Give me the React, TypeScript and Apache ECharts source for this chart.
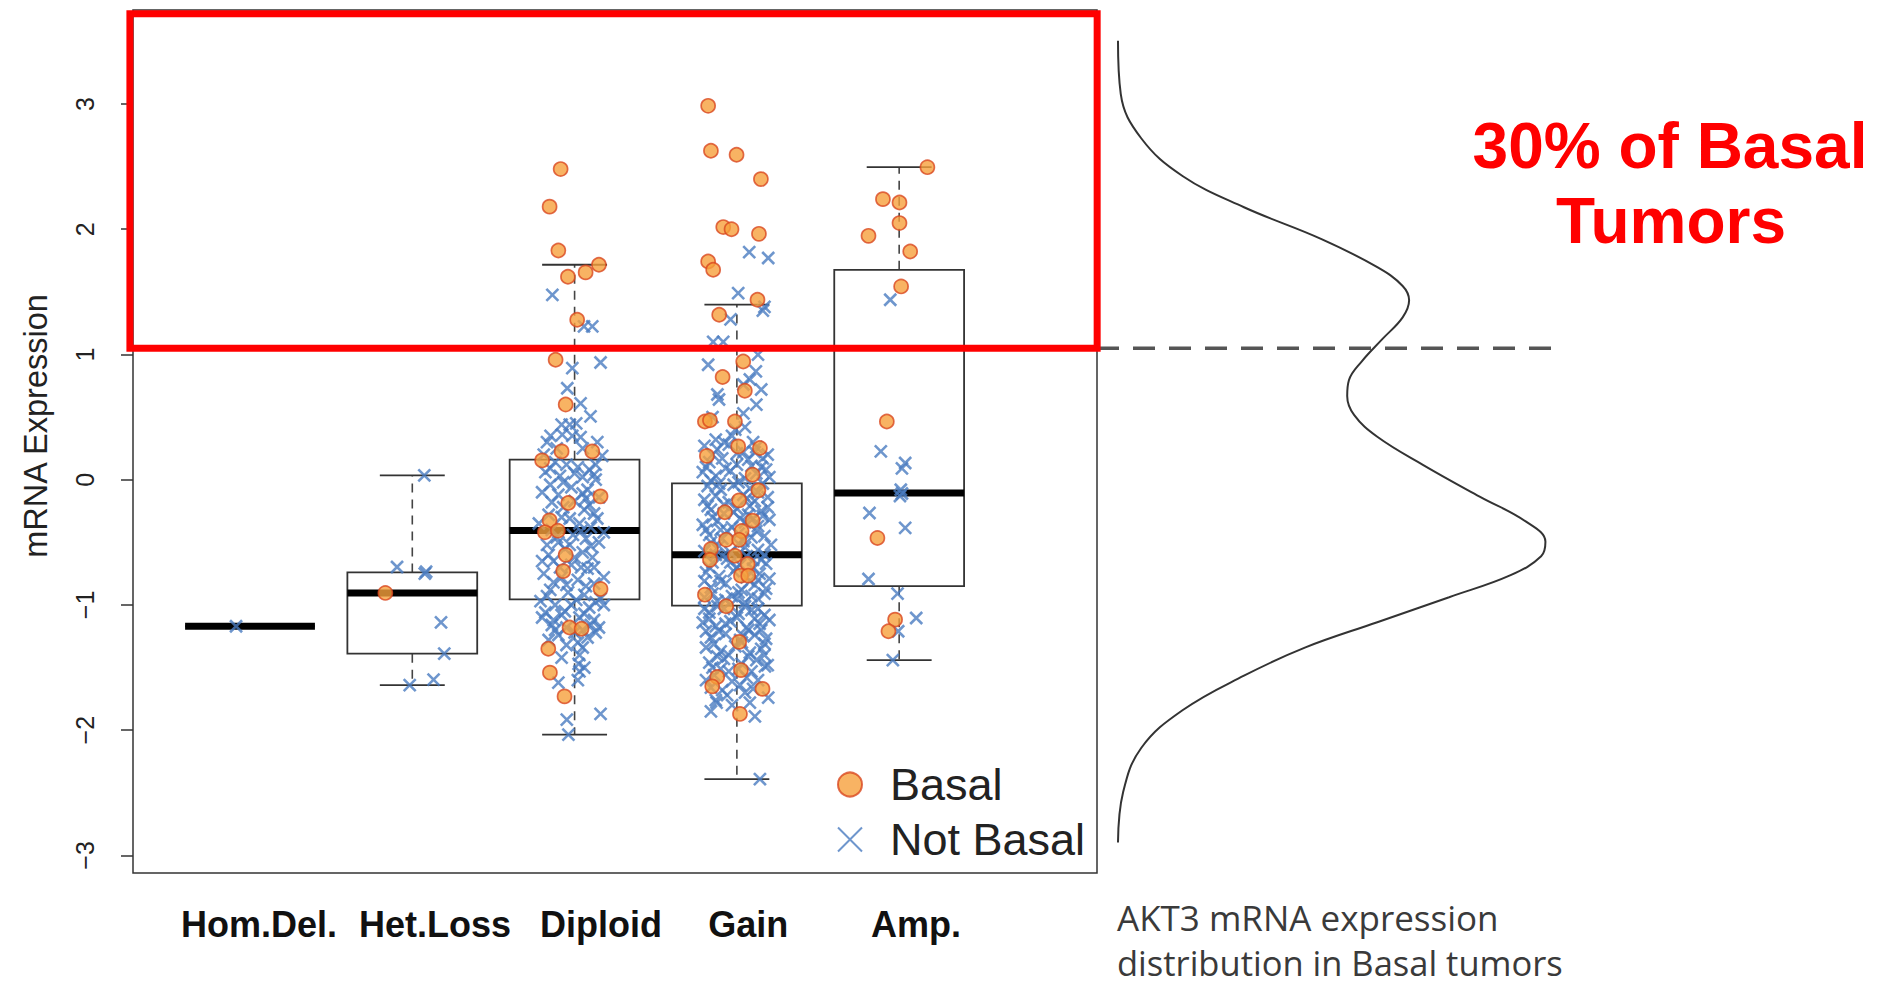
import React, { useEffect, useRef } from "react";
import * as echarts from "echarts";

// ---------- data ----------
const categories = ["Hom.Del.", "Het.Loss", "Diploid", "Gain", "Amp."];
const categoryPositions = [1, 2, 3, 4, 5];
const labelPositions = [1.055, 2.14, 3.163, 4.07, 5.103];
const yTicks = [-3, -2, -1, 0, 1, 2, 3];

// [lower whisker, Q1, median, Q3, upper whisker]
const boxStats = [
  [-1.17, -1.17, -1.17, -1.17, -1.17],
  [-1.64, -1.389, -0.904, -0.74, 0.034],
  [-2.035, -0.955, -0.405, 0.16, 1.716],
  [-2.39, -1.006, -0.6, -0.03, 1.397],
  [-1.44, -0.85, -0.106, 1.676, 2.495],
];

// points: [jitter offset from category, expression]
const basalHomDel: number[][] = [];
const basalHetLoss = [[-0.166, -0.904]];
const basalDiploid = [
  [-0.086, 2.48], [-0.154, 2.18], [-0.1, 1.83], [0.15, 1.716], [0.068, 1.655], [-0.041, 1.62],
  [0.016, 1.277], [-0.117, 0.958], [-0.055, 0.6], [-0.2, 0.154], [-0.08, 0.226], [0.109, 0.226],
  [0.16, -0.133], [-0.039, -0.186], [-0.154, -0.325], [-0.183, -0.42], [-0.103, -0.407],
  [-0.055, -0.6], [-0.07, -0.73], [0.16, -0.872], [-0.031, -1.18], [0.043, -1.19],
  [-0.162, -1.35], [-0.152, -1.54], [-0.062, -1.73],
];
const basalGain = [
  [-0.177, 2.985], [-0.16, 2.626], [-0.002, 2.594], [0.148, 2.4], [-0.084, 2.017], [-0.033, 2.0],
  [0.136, 1.963], [-0.177, 1.742], [-0.146, 1.676], [0.127, 1.437], [-0.109, 1.317], [0.039, 0.944],
  [-0.088, 0.82], [0.049, 0.71], [-0.197, 0.465], [-0.166, 0.475], [-0.012, 0.465], [0.008, 0.266],
  [0.142, 0.253], [-0.185, 0.19], [0.097, 0.04], [0.133, -0.085], [0.014, -0.165], [-0.074, -0.26],
  [0.097, -0.327], [0.029, -0.41], [-0.066, -0.48], [0.014, -0.48], [-0.16, -0.553], [-0.166, -0.64],
  [-0.012, -0.607], [0.066, -0.673], [0.025, -0.766], [0.07, -0.766], [-0.197, -0.918], [-0.066, -1.01],
  [0.014, -1.295], [0.025, -1.52], [-0.121, -1.575], [-0.152, -1.65], [0.158, -1.67], [0.019, -1.87],
];
const basalAmp = [
  [0.174, 2.495], [-0.1, 2.24], [0.002, 2.213], [0.002, 2.049], [-0.189, 1.947], [0.068, 1.822],
  [0.012, 1.543], [-0.076, 0.465], [-0.134, -0.465], [-0.025, -1.117], [-0.066, -1.21],
];

const notBasalHomDel = [[-0.086, -1.17]];
const notBasalHetLoss = [
  [0.074, 0.034], [-0.094, -0.697], [0.077, -0.75], [0.085, -0.735], [0.177, -1.139],
  [0.197, -1.389], [-0.016, -1.64], [0.131, -1.596],
];
const notBasalDiploid = [
  [-0.137, 1.476], [0.058, 1.224], [0.109, 1.224], [0.16, 0.936], [-0.014, 0.891], [-0.045, 0.73],
  [0.037, 0.61], [0.098, 0.505], [-0.08, 0.44], [-0.03, 0.44], [0.01, 0.45], [-0.148, 0.35],
  [-0.076, 0.36], [-0.014, 0.35], [0.037, 0.34], [-0.17, 0.3], [0.17, 0.19], [0.13, 0.12],
  [-0.12, 0.14], [-0.05, 0.12], [0.02, 0.1], [0.09, 0.08], [-0.18, 0.06], [-0.09, 0.03], [0.05, 0.02],
  [0.13, 0.0], [-0.15, -0.04], [-0.02, -0.06], [0.08, -0.08], [-0.2, -0.1], [-0.1, -0.12], [0.15, -0.14],
  [0.0, -0.17], [-0.07, -0.22], [0.06, -0.24], [0.12, -0.27], [-0.16, -0.28], [-0.03, -0.31],
  [0.03, -0.35], [0.1, -0.38], [-0.11, -0.46], [-0.01, -0.44], [0.07, -0.47], [0.15, -0.5],
  [-0.17, -0.52], [-0.06, -0.55], [0.05, -0.58], [0.11, -0.62], [-0.13, -0.65], [-0.02, -0.68],
  [0.08, -0.71], [-0.19, -0.75], [-0.08, -0.78], [0.02, -0.8], [0.12, -0.83], [-0.15, -0.88],
  [-0.04, -0.9], [0.06, -0.92], [0.16, -0.95], [-0.21, -0.97], [-0.12, -1.0], [-0.02, -1.0],
  [0.09, -1.02], [0.18, -1.0], [-0.18, -1.06], [-0.08, -1.08], [0.03, -1.1], [0.12, -1.12],
  [-0.14, -1.16], [0.15, -1.18], [-0.1, -1.24], [0.0, -1.22], [0.08, -1.26], [-0.16, -1.28],
  [-0.05, -1.32], [0.05, -1.34], [0.03, -1.4], [0.025, -1.47], [0.03, -1.53], [0.02, -1.6],
  [-0.1, -1.62], [0.16, -1.87], [-0.048, -1.915], [-0.038, -2.035],
  [-0.15, 0.09], [0.0, 0.05], [0.12, 0.04], [-0.07, -0.02], [0.05, -0.11], [-0.14, -0.18],
  [0.09, -0.2], [-0.08, -0.3], [0.14, -0.31], [-0.14, -0.4], [0.04, -0.41], [-0.1, -0.5],
  [0.1, -0.53], [-0.16, -0.6], [0.0, -0.62], [-0.09, -0.7], [0.12, -0.7], [-0.13, -0.82],
  [0.07, -0.85], [-0.17, -0.93], [0.01, -0.96], [0.13, -0.98], [-0.06, -1.05], [0.06, -1.07],
  [-0.13, -1.12], [0.1, -1.16], [-0.05, -1.18], [0.13, -1.22], [-0.12, -1.2], [0.02, -1.3],
  [-0.19, 0.2], [0.05, 0.25], [0.14, 0.3], [-0.11, 0.25], [-0.22, -0.35], [0.18, -0.42],
  [-0.2, -0.65], [0.18, -0.78], [-0.05, -0.84], [0.04, -0.7], [-0.03, -0.52], [0.07, -0.15],
  [-0.2, -1.1], [0.05, -1.2], [-0.08, -1.42], [0.06, -1.5],
];
const notBasalGain = [
  [0.076, 1.817], [0.193, 1.77], [0.008, 1.49], [0.16, 1.35], [0.17, 1.38], [-0.039, 1.28],
  [-0.146, 1.1], [-0.084, 1.1], [0.13, 0.998], [-0.177, 0.918], [0.117, 0.865], [0.08, 0.8],
  [0.04, 0.76], [0.15, 0.72], [-0.12, 0.68], [-0.11, 0.64], [0.04, 0.53], [-0.01, 0.4],
  [-0.13, 0.32], [-0.08, 0.3], [0.11, 0.22],
  [-0.2, 0.27], [-0.12, 0.24], [-0.05, 0.28], [0.04, 0.22], [0.12, 0.26], [0.19, 0.2],
  [-0.17, 0.14], [-0.09, 0.17], [0.0, 0.12], [0.07, 0.16], [0.15, 0.1],
  [-0.21, 0.06], [-0.13, 0.03], [-0.04, 0.07], [0.05, 0.01], [0.12, 0.05], [0.2, 0.02],
  [-0.18, -0.05], [-0.1, -0.08], [-0.02, -0.04], [0.08, -0.07], [0.16, -0.03],
  [-0.2, -0.16], [-0.13, -0.13], [-0.05, -0.18], [0.04, -0.12], [0.11, -0.17], [0.19, -0.14],
  [-0.16, -0.24], [-0.08, -0.27], [0.0, -0.23], [0.07, -0.28], [0.15, -0.25],
  [-0.21, -0.36], [-0.12, -0.33], [-0.03, -0.38], [0.05, -0.34], [0.13, -0.37], [0.2, -0.32],
  [-0.17, -0.44], [-0.09, -0.47], [0.01, -0.43], [0.09, -0.46], [0.17, -0.45],
  [-0.2, -0.57], [-0.11, -0.53], [-0.04, -0.58], [0.05, -0.54], [0.13, -0.56], [0.21, -0.52],
  [-0.15, -0.66], [-0.06, -0.63], [0.02, -0.68], [0.1, -0.64], [0.18, -0.67],
  [-0.19, -0.74], [-0.11, -0.77], [-0.02, -0.73], [0.06, -0.78], [0.14, -0.75], [0.2, -0.79],
  [-0.16, -0.86], [-0.07, -0.83], [0.03, -0.88], [0.11, -0.84], [0.18, -0.87],
  [-0.2, -0.94], [-0.12, -0.97], [-0.03, -0.93], [0.05, -0.98], [0.13, -0.95],
  [-0.17, -1.06], [-0.08, -1.03], [0.01, -1.07], [0.09, -1.04], [0.17, -1.08],
  [-0.21, -1.14], [-0.13, -1.17], [-0.04, -1.13], [0.06, -1.18], [0.14, -1.15], [0.2, -1.12],
  [-0.16, -1.26], [-0.07, -1.23], [0.02, -1.28], [0.11, -1.24], [0.18, -1.27],
  [-0.19, -1.34], [-0.1, -1.37], [-0.01, -1.33], [0.08, -1.38], [0.15, -1.35],
  [-0.17, -1.46], [-0.08, -1.43], [0.03, -1.47], [0.12, -1.44], [0.19, -1.48],
  [-0.14, -1.56], [-0.05, -1.53], [0.06, -1.58], [0.173, -1.49],
  [-0.16, -1.66], [-0.09, -1.68], [0.02, -1.64], [0.1, -1.67],
  [-0.13, -1.76], [-0.125, -1.78], [0.193, -1.74], [-0.06, -1.72], [0.111, -1.89], [0.142, -2.39],
  [-0.15, 0.2], [0.0, 0.21], [0.16, 0.17], [-0.07, 0.09], [0.09, 0.11], [-0.16, -0.01], [0.01, -0.02],
  [0.13, -0.1], [-0.08, -0.2], [0.08, -0.21], [-0.15, -0.3], [0.02, -0.31], [0.16, -0.29],
  [-0.06, -0.41], [0.12, -0.41], [-0.16, -0.5], [0.01, -0.51], [0.17, -0.6], [-0.09, -0.61],
  [0.06, -0.61], [-0.17, -0.7], [0.0, -0.7], [0.1, -0.71], [-0.1, -0.81], [0.08, -0.81],
  [-0.15, -0.91], [0.01, -0.9], [0.17, -0.91], [-0.12, -1.01], [0.05, -1.01], [-0.17, -1.11],
  [0.0, -1.1], [0.11, -1.11], [-0.11, -1.21], [0.07, -1.2], [-0.14, -1.31], [0.03, -1.3],
  [0.17, -1.31], [-0.12, -1.41], [0.07, -1.41], [-0.1, -1.51], [0.01, -1.51], [-0.03, -1.61],
  [0.05, -1.7],
  [-0.19, 0.1], [0.18, 0.08], [-0.11, -0.03], [0.06, -0.15], [-0.18, -0.21], [0.19, -0.22],
  [-0.02, -0.26], [0.1, -0.31], [-0.19, -0.4], [0.04, -0.49], [-0.13, -0.6], [0.15, -0.64],
  [-0.04, -0.66], [-0.2, -0.81], [0.13, -0.8], [-0.07, -0.96], [0.09, -0.93], [-0.2, -1.03],
  [0.13, -1.03], [-0.07, -1.15], [0.04, -1.25], [-0.19, -1.21], [0.15, -1.2], [-0.05, -1.4],
  [0.17, -1.4], [-0.15, -1.5], [0.09, -1.53], [-0.19, -1.6], [0.13, -1.6], [-0.03, -1.8],
  [0.08, -1.78], [-0.16, -1.85], [0.0, -0.95], [-0.1, -0.4], [0.1, 0.3], [-0.03, 0.35],
  [0.05, 0.42], [-0.15, 0.5], [0.12, 0.6],
];
const notBasalAmp = [
  [-0.055, 1.437], [-0.113, 0.226], [0.037, 0.133], [0.017, 0.09], [0.01, -0.08], [0.017, -0.11],
  [0.005, -0.13], [-0.183, -0.266], [0.037, -0.385], [-0.189, -0.793], [-0.01, -0.91],
  [0.105, -1.104], [-0.006, -1.21], [-0.039, -1.44],
];

// density of AKT3 expression in basal tumors: [density, expression]
const densityCurve = [
  [0.0, 3.504], [0.0065, 3.078], [0.054, 2.726], [0.15, 2.425], [0.293, 2.175], [0.472, 1.923],
  [0.603, 1.697], [0.662, 1.547], [0.677, 1.432], [0.662, 1.296], [0.614, 1.12], [0.567, 0.945],
  [0.537, 0.794], [0.533, 0.669], [0.549, 0.518], [0.603, 0.343], [0.71, 0.117], [0.841, -0.135],
  [0.949, -0.335], [0.994, -0.495], [0.984, -0.611], [0.913, -0.762], [0.77, -0.938],
  [0.603, -1.138], [0.436, -1.339], [0.293, -1.565], [0.15, -1.841], [0.054, -2.142],
  [0.012, -2.494], [0.0, -2.896],
];
const threshold = 1.05;
const highlightBox = [0.26, 3.72, 6.22, 1.05]; // x0, yTop, x1, yBottom

const FONT = '"Liberation Sans", Arial, Helvetica, sans-serif';
const NOTE_FONT = '"Open Sans", "Noto Sans", sans-serif';

function place(groups: number[][][]) {
  const out: number[][] = [];
  groups.forEach((g, i) => g.forEach(([dx, v]) => out.push([categoryPositions[i] + dx, v])));
  return out;
}

export default function App() {
  const ref = useRef<HTMLDivElement>(null);
  useEffect(() => {
    if (!ref.current) return;
    const chart = echarts.init(ref.current, null, { renderer: "svg" });
    const basalData = place([basalHomDel, basalHetLoss, basalDiploid, basalGain, basalAmp]);
    const notBasalData = place([notBasalHomDel, notBasalHetLoss, notBasalDiploid, notBasalGain, notBasalAmp]);
    const boxData = boxStats.map((s, i) => [categoryPositions[i], ...s]);

    const option: any = {
      animation: false,
      backgroundColor: "#ffffff",
      grid: [
        { left: 133, top: 10, width: 964, height: 863, show: true, borderColor: "#333", borderWidth: 1.5, backgroundColor: "transparent" },
        { left: 1097, top: 10, width: 456, height: 863, show: false },
      ],
      xAxis: [
        {
          type: "value", gridIndex: 0, min: 0.279, max: 6.219,
          axisLine: { show: false }, axisTick: { show: false }, splitLine: { show: false },
          axisLabel: {
            customValues: labelPositions,
            formatter: (v: number) => {
              const i = labelPositions.findIndex((p) => Math.abs(p - v) < 1e-6);
              return i >= 0 ? categories[i] : "";
            },
            fontFamily: FONT, fontWeight: "bold", fontSize: 36, color: "#111", margin: 33,
          },
        },
        { type: "value", gridIndex: 1, min: -0.0488, max: 1.0116, show: false },
      ],
      yAxis: [
        {
          type: "value", gridIndex: 0, min: -3.14, max: 3.75,
          axisLine: { show: false }, splitLine: { show: false },
          axisTick: { show: true, length: 12, customValues: yTicks, lineStyle: { color: "#333", width: 1.5 } },
          axisLabel: {
            customValues: yTicks, rotate: 90, fontFamily: FONT, fontSize: 25, color: "#222", margin: 36,
            formatter: (v: number) => String(v).replace("-", "\u2212"),
          },
        },
        { type: "value", gridIndex: 1, min: -3.14, max: 3.75, show: false },
      ],
      legend: {
        orient: "vertical", left: 837, top: 762, itemWidth: 70, itemHeight: 24, itemGap: 10,
        padding: 0,
        data: ["Basal", "Not Basal"],
        textStyle: { fontFamily: FONT, fontSize: 45, color: "#222" },
      },
      series: [
        {
          type: "custom", name: "boxes", xAxisIndex: 0, yAxisIndex: 0, z: 2,
          data: boxData,
          renderItem: (params: any, api: any) => {
            const x = api.value(0), lo = api.value(1), q1 = api.value(2), med = api.value(3), q3 = api.value(4), hi = api.value(5);
            const hb = 0.4, hc = 0.2;
            const a = api.coord([x - hb, q3]);
            const b = api.coord([x + hb, q1]);
            const pHi = api.coord([x, hi]), pQ3 = api.coord([x, q3]), pQ1 = api.coord([x, q1]), pLo = api.coord([x, lo]);
            const cL = api.coord([x - hc, hi]), cR = api.coord([x + hc, hi]);
            const dL = api.coord([x - hc, lo]), dR = api.coord([x + hc, lo]);
            const mL = api.coord([x - hb, med]), mR = api.coord([x + hb, med]);
            const dash = { stroke: "#444", lineWidth: 1.6, lineDash: [9, 7] };
            const solid = { stroke: "#333", lineWidth: 1.8 };
            return {
              type: "group",
              children: [
                { type: "line", shape: { x1: pQ3[0], y1: pQ3[1], x2: pHi[0], y2: pHi[1] }, style: dash },
                { type: "line", shape: { x1: pQ1[0], y1: pQ1[1], x2: pLo[0], y2: pLo[1] }, style: dash },
                { type: "line", shape: { x1: cL[0], y1: cL[1], x2: cR[0], y2: cR[1] }, style: solid },
                { type: "line", shape: { x1: dL[0], y1: dL[1], x2: dR[0], y2: dR[1] }, style: solid },
                { type: "rect", shape: { x: a[0], y: a[1], width: b[0] - a[0], height: b[1] - a[1] }, style: { ...solid, fill: "none" } },
                { type: "line", shape: { x1: mL[0], y1: mL[1], x2: mR[0], y2: mR[1] }, style: { stroke: "#000", lineWidth: 7 } },
              ],
            };
          },
        },
        {
          type: "scatter", name: "Not Basal", xAxisIndex: 0, yAxisIndex: 0, z: 3,
          data: notBasalData,
          symbol: "path://M0,0L10,10M10,0L0,10", symbolSize: 12, symbolKeepAspect: true,
          itemStyle: { color: "rgba(0,0,0,0)", borderColor: "#4a7cc0", borderWidth: 2.6 },
        },
        {
          type: "scatter", name: "Basal", xAxisIndex: 0, yAxisIndex: 0, z: 4,
          data: basalData,
          symbol: "circle", symbolSize: 14, symbolKeepAspect: true,
          itemStyle: { color: "#f6a03c", borderColor: "#d9471f", borderWidth: 1.7 },
        },
        {
          type: "line", name: "density", xAxisIndex: 1, yAxisIndex: 1, z: 3,
          data: densityCurve, smooth: 0.4, symbol: "none",
          lineStyle: { color: "#333", width: 2 },
        },
        {
          type: "line", name: "threshold", xAxisIndex: 1, yAxisIndex: 1, z: 5,
          data: [[-0.0488, threshold], [1.0116, threshold]], symbol: "none",
          lineStyle: { color: "#555", width: 3.5, type: [22, 14] },
        },
        {
          type: "custom", name: "highlight", xAxisIndex: 0, yAxisIndex: 0, z: 10, clip: false,
          data: [highlightBox],
          renderItem: (params: any, api: any) => {
            const p0 = api.coord([api.value(0), api.value(1)]);
            const p1 = api.coord([api.value(2), api.value(3)]);
            return {
              type: "rect",
              shape: { x: p0[0], y: p0[1], width: p1[0] - p0[0], height: p1[1] - p0[1] },
              style: { stroke: "#ff0000", lineWidth: 7, fill: "none" },
            };
          },
        },
      ],
      graphic: [
        {
          type: "text", x: 36, y: 426, rotation: Math.PI / 2,
          style: { text: "mRNA Expression", fontFamily: FONT, fontSize: 32.5, fill: "#222", align: "center", verticalAlign: "middle", textAlign: "center", textVerticalAlign: "middle" },
        },
        {
          type: "text", x: 1670, y: 146,
          style: { text: "30% of Basal", fontFamily: FONT, fontWeight: "bold", fontSize: 64, fill: "#ff0000", align: "center", verticalAlign: "middle", textAlign: "center", textVerticalAlign: "middle" },
        },
        {
          type: "text", x: 1671, y: 221,
          style: { text: "Tumors", fontFamily: FONT, fontWeight: "bold", fontSize: 64, fill: "#ff0000", align: "center", verticalAlign: "middle", textAlign: "center", textVerticalAlign: "middle" },
        },
        {
          type: "text", x: 1117, y: 917,
          style: { text: "AKT3 mRNA expression", fontFamily: NOTE_FONT, fontSize: 35, lineHeight: 36, fill: "#3a3a3a", align: "left", verticalAlign: "middle", textAlign: "left", textVerticalAlign: "middle" },
        },
        {
          type: "text", x: 1117, y: 962,
          style: { text: "distribution in Basal tumors", fontFamily: NOTE_FONT, fontSize: 34.5, lineHeight: 36, fill: "#3a3a3a", align: "left", verticalAlign: "middle", textAlign: "left", textVerticalAlign: "middle" },
        },
      ],
    };
    chart.setOption(option);
    return () => chart.dispose();
  }, []);
  return <div ref={ref} style={{ position: "absolute", left: 0, top: 0, width: "1895px", height: "984px", background: "#fff" }} />;
}
